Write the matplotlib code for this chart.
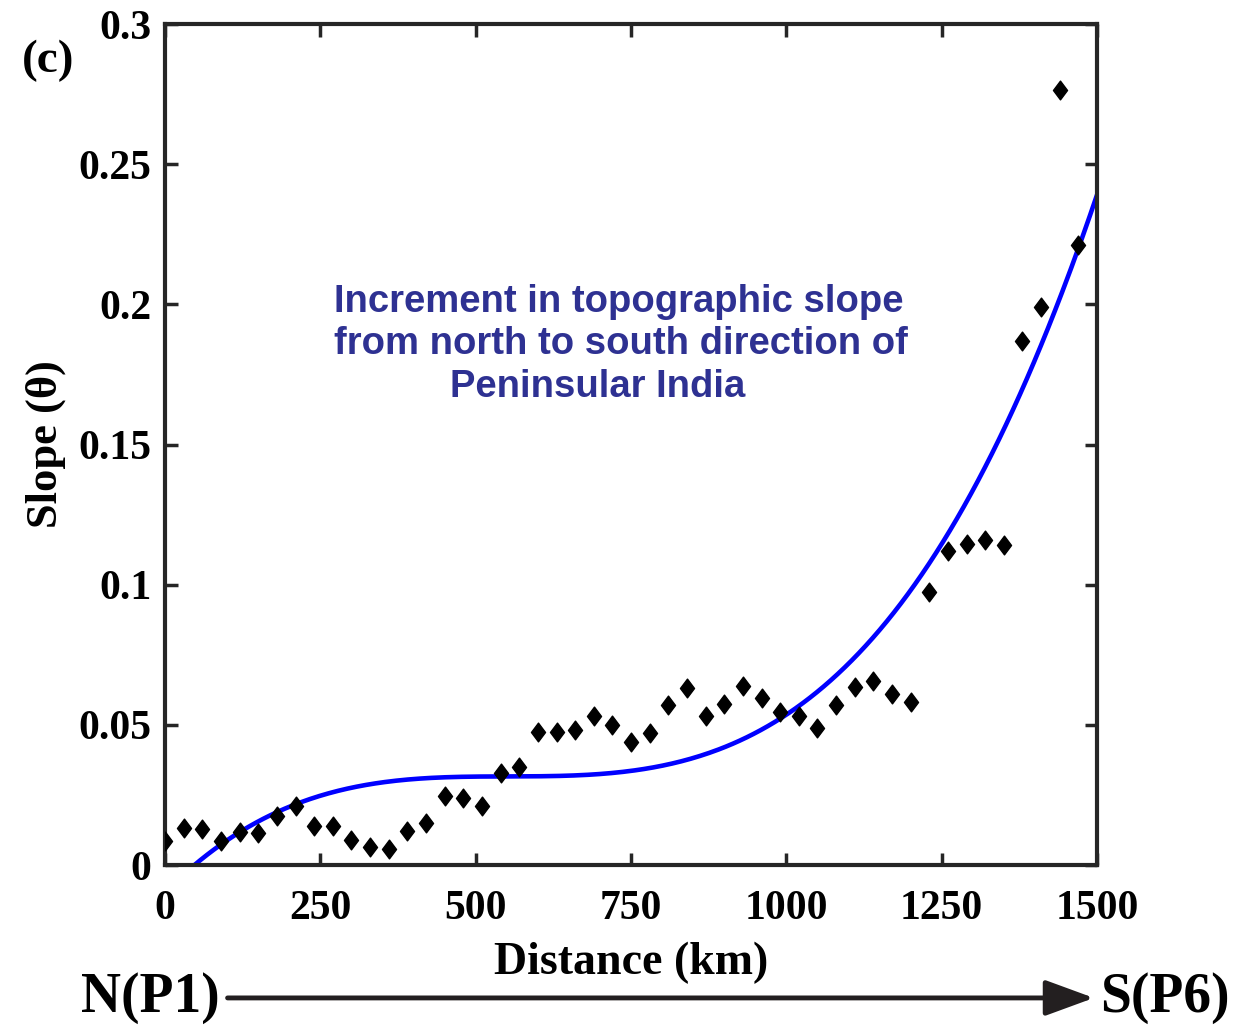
import numpy as np
import matplotlib
matplotlib.use("Agg")
import matplotlib.pyplot as plt
from matplotlib.path import Path

# slope along the N -> S profile, one point every 30 km
distance_km = [0, 30, 60, 90, 120, 150, 180, 210, 240, 270,
               300, 330, 360, 390, 420, 450, 480, 510, 540, 570,
               600, 630, 660, 690, 720, 750, 780, 810, 840, 870,
               900, 930, 960, 990, 1020, 1050, 1080, 1110, 1140, 1170,
               1200, 1230, 1260, 1290, 1320, 1350, 1380, 1410, 1440, 1470]
slope = [0.0086, 0.0132, 0.0128, 0.0086, 0.0118, 0.0114, 0.0175, 0.0210, 0.0139, 0.0139,
         0.0089, 0.0064, 0.0057, 0.0121, 0.0150, 0.0246, 0.0240, 0.0210, 0.0330, 0.0350,
         0.0474, 0.0474, 0.0480, 0.0530, 0.0500, 0.0440, 0.0470, 0.0570, 0.0630, 0.0530,
         0.0574, 0.0640, 0.0596, 0.0546, 0.0530, 0.0490, 0.0570, 0.0635, 0.0656, 0.0610,
         0.0580, 0.0974, 0.1120, 0.1145, 0.1160, 0.1140, 0.1870, 0.1990, 0.2765, 0.2210]

x_ticks = [0, 250, 500, 750, 1000, 1250, 1500]
y_ticks = [0, 0.05, 0.1, 0.15, 0.2, 0.25, 0.3]
y_ticklabels = ["0", "0.05", "0.1", "0.15", "0.2", "0.25", "0.3"]

plt.rcParams['font.family'] = ['Liberation Serif', 'DejaVu Serif']
plt.rcParams['font.weight'] = 'bold'

fig = plt.figure(figsize=(12.42, 10.27), dpi=100)
ax = fig.add_axes([0.1329, 0.1577, 0.7504, 0.8189])

# cubic trend line fitted to the points
coef = np.polyfit(distance_km, slope, 3)
xs = np.linspace(0, 1500, 400)
ax.plot(xs, np.polyval(coef, xs), color='#0000FF', linewidth=3.3, zorder=2)

diamond = Path([(0, 1), (0.75, 0), (0, -1), (-0.75, 0), (0, 1)],
               [Path.MOVETO, Path.LINETO, Path.LINETO, Path.LINETO, Path.CLOSEPOLY])
ax.plot(distance_km, slope, linestyle='none', marker=diamond, markersize=13.5,
        color='black', zorder=3)

ax.set_xlim(0, 1500)
ax.set_ylim(0, 0.3)
ax.set_xticks(x_ticks)
ax.set_xticklabels([str(t) for t in x_ticks])
ax.set_yticks(y_ticks)
ax.set_yticklabels(y_ticklabels)
ax.tick_params(direction='in', length=9, width=2.5, color='#262626',
               top=True, right=True, labelsize=30)
ax.tick_params(axis='x', pad=18)
ax.tick_params(axis='y', pad=10)
for sp in ax.spines.values():
    sp.set_linewidth(3)
    sp.set_color('#262626')

ax.set_xlabel("Distance (km)", fontsize=33, fontweight='bold', labelpad=10)
ax.set_ylabel("Slope (θ)", fontsize=32, fontweight='bold', labelpad=9)

ax.text(0.181, 0.669, "Increment in topographic slope", transform=ax.transAxes,
        fontsize=27.5, fontweight='bold', color='#2E3192', family='Liberation Sans',
        ha='left', va='center')
ax.text(0.181, 0.619, "from north to south direction of", transform=ax.transAxes,
        fontsize=27.5, fontweight='bold', color='#2E3192', family='Liberation Sans',
        ha='left', va='center')
ax.text(0.306, 0.569, "Peninsular India", transform=ax.transAxes,
        fontsize=27.5, fontweight='bold', color='#2E3192', family='Liberation Sans',
        ha='left', va='center')

fig.text(0.039, 0.941, "(c)", fontsize=34, fontweight='bold', ha='center', va='center')

# north -> south arrow under the axis
fig.text(0.121, 0.0285, "N(P1)", fontsize=40, fontweight='bold', ha='center', va='center')
fig.text(0.938, 0.0285, "S(P6)", fontsize=40, fontweight='bold', ha='center', va='center')
fig.patches.append(matplotlib.patches.FancyArrowPatch(
    (0.181, 0.0283), (0.883, 0.0283), transform=fig.transFigure,
    arrowstyle='-|>,head_length=1.5,head_width=0.55', mutation_scale=20,
    linewidth=3.5, color='#231F20'))

fig.savefig("out.png", dpi=100)
